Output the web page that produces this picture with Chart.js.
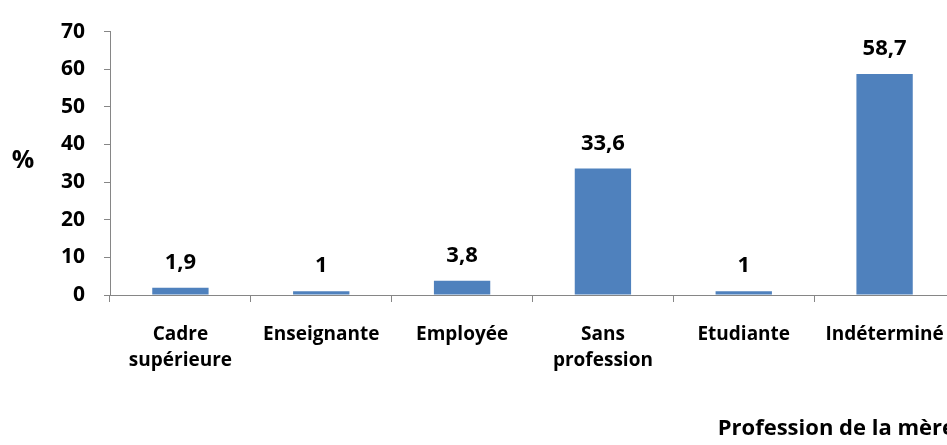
<!DOCTYPE html>
<html lang="fr">
<head>
    <meta charset="UTF-8">
    <title>Profession de la mère</title>
    <script src="https://cdn.jsdelivr.net/npm/chart.js"></script>
    <style>
        html, body { margin: 0; padding: 0; background: #fff; overflow: hidden; }
        .chart-box { width: 967px; height: 445px; }
    </style>
</head>
<body>

    <div class="chart-box">
        <canvas id="professionChart" width="967" height="445"></canvas>
    </div>

    <script>
        // Données : profession de la mère (%)
        var categories = [
            ['Cadre', 'supérieure'],
            'Enseignante',
            'Employée',
            ['Sans', 'profession'],
            'Etudiante',
            'Indéterminé'
        ];
        var pourcentages = [1.9, 1, 3.8, 33.6, 1, 58.7];
        var yTicks = [0, 10, 20, 30, 40, 50, 60, 70];

        var police = "'Open Sans', 'DejaVu Sans', sans-serif";
        var gris = '#868686';

        // valeurs au-dessus des barres, virgule décimale
        var valeursPlugin = {
            id: 'valeurs',
            afterDatasetsDraw: function (chart) {
                var ctx = chart.ctx;
                var meta = chart.getDatasetMeta(0);
                ctx.save();
                ctx.font = 'bold 22px ' + police;
                ctx.fillStyle = '#000';
                ctx.textAlign = 'center';
                ctx.textBaseline = 'alphabetic';
                meta.data.forEach(function (bar, i) {
                    var txt = String(pourcentages[i]).replace('.', ',');
                    ctx.fillText(txt, bar.x, bar.y - 19);
                });
                // titre de l'axe vertical, horizontal
                ctx.font = 'bold 25px ' + police;
                ctx.textBaseline = 'middle';
                ctx.fillText('%', 23, 161);
                ctx.restore();
            }
        };

        var ctx = document.getElementById('professionChart').getContext('2d');
        var professionChart = new Chart(ctx, {
            type: 'bar',
            data: {
                labels: categories,
                datasets: [{
                    label: '%',
                    data: pourcentages,
                    backgroundColor: '#4F81BD',
                    borderWidth: 0,
                    barPercentage: 0.4,
                    categoryPercentage: 1
                }]
            },
            options: {
                responsive: false,
                animation: false,
                layout: { padding: { top: 25, right: 12, left: 0, bottom: 0 } },
                plugins: {
                    legend: { display: false },
                    tooltip: { enabled: false }
                },
                scales: {
                    x: {
                        grid: {
                            offset: true,
                            drawOnChartArea: false,
                            tickLength: 7,
                            color: gris
                        },
                        border: { color: gris, width: 1 },
                        ticks: {
                            color: '#000',
                            padding: 19,
                            maxRotation: 0,
                            autoSkip: false,
                            font: { family: police, size: 19, weight: 'bold', lineHeight: 1.4 }
                        },
                        title: {
                            display: true,
                            text: 'Profession de la mère',
                            align: 'end',
                            color: '#000',
                            padding: { top: 0, bottom: 3 },
                            font: { family: police, size: 22, weight: 'bold' }
                        },
                        afterFit: function (s) { s.height = 150; }
                    },
                    y: {
                        min: 0,
                        max: 70,
                        afterBuildTicks: function (s) {
                            s.ticks = yTicks.map(function (v) { return { value: v }; });
                        },
                        grid: {
                            drawOnChartArea: false,
                            tickLength: 6,
                            color: gris
                        },
                        border: { color: gris, width: 1 },
                        ticks: {
                            color: '#000',
                            padding: 19,
                            font: { family: police, size: 21, weight: 'bold' }
                        },
                        afterFit: function (s) { s.width = 110; }
                    }
                }
            },
            plugins: [valeursPlugin]
        });
    </script>

</body>
</html>
